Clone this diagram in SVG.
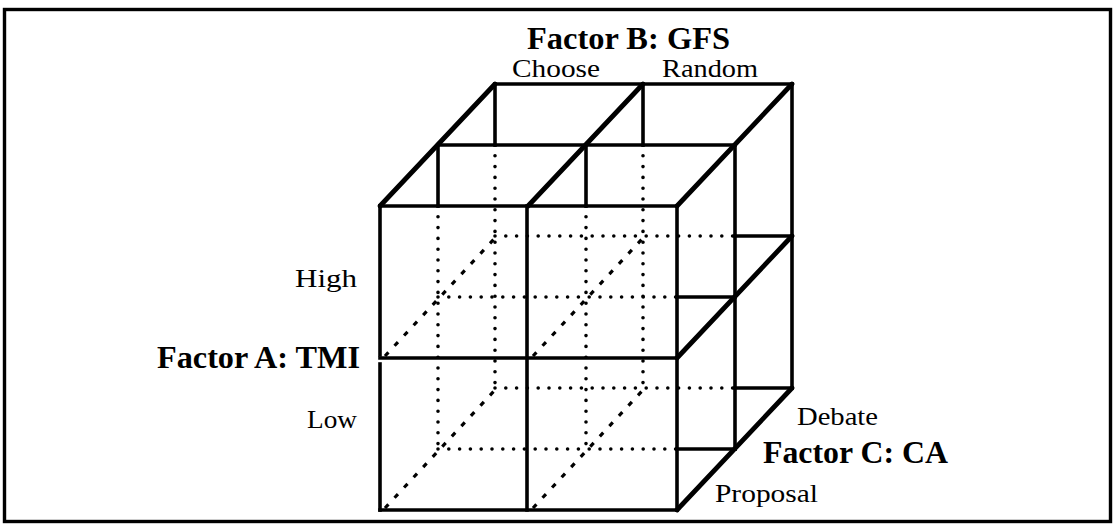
<svg xmlns="http://www.w3.org/2000/svg" width="1116" height="525" viewBox="0 0 1116 525">
  <style>
    .frame { fill: none; stroke: #000; stroke-width: 3.4; }
    .edge { fill: none; stroke: #000; stroke-width: 3.6; stroke-linecap: square; }
    .heavy { fill: none; stroke: #000; stroke-width: 4.8; stroke-linecap: round; }
    .dots { fill: none; stroke: #000; stroke-width: 3.6; stroke-linecap: round; stroke-dasharray: 0 10.8; }
    .dash { fill: none; stroke: #000; stroke-width: 3.2; stroke-linecap: butt; stroke-dasharray: 5 9; }
    .lbl { font-family: "Liberation Serif", "DejaVu Serif", serif; font-size: 25px; fill: #000; }
    .fac { font-family: "Liberation Serif", "DejaVu Serif", serif; font-size: 31px; font-weight: bold; fill: #000; }
  </style>

  <rect class="frame" x="4.5" y="9.5" width="1106" height="512"/>

  <!-- 2 x 2 x 2 block: front plane z0, middle plane z1, back plane z2 -->
  <g id="cube">
    <!-- hidden edges, dotted -->
    <g id="hidden-dotted">
      <line class="dots" x1="438" y1="206" x2="438" y2="449"/>
      <line class="dots" x1="586" y1="206" x2="586" y2="449"/>
      <line class="dots" x1="495" y1="145" x2="495" y2="388"/>
      <line class="dots" x1="643" y1="145" x2="643" y2="388"/>
      <line class="dots" x1="495" y1="236" x2="735" y2="236"/>
      <line class="dots" x1="438" y1="297" x2="677" y2="297"/>
      <line class="dots" x1="495" y1="388" x2="735" y2="388"/>
      <line class="dots" x1="438" y1="449" x2="677" y2="449"/>
    </g>
    <!-- hidden depth edges, dashed -->
    <g id="hidden-dashed">
      <line class="dash" x1="385" y1="356" x2="495" y2="238"/>
      <line class="dash" x1="533" y1="356" x2="643" y2="238"/>
      <line class="dash" x1="385" y1="508" x2="495" y2="390"/>
      <line class="dash" x1="533" y1="508" x2="643" y2="390"/>
    </g>
    <!-- top face -->
    <g id="top">
      <line class="edge" x1="495" y1="84" x2="792" y2="84"/>
      <line class="edge" x1="438" y1="145" x2="735" y2="145"/>
      <line class="edge" x1="495" y1="84" x2="495" y2="145"/>
      <line class="edge" x1="643" y1="84" x2="643" y2="145"/>
      <line class="edge" x1="438" y1="145" x2="438" y2="206"/>
      <line class="edge" x1="586" y1="145" x2="586" y2="206"/>
      <line class="heavy" x1="380" y1="206" x2="495" y2="84"/>
      <line class="heavy" x1="528" y1="206" x2="643" y2="84"/>
      <line class="heavy" x1="677" y1="206" x2="792" y2="84"/>
    </g>
    <!-- front face -->
    <g id="front">
      <line class="edge" x1="380" y1="206" x2="677" y2="206"/>
      <line class="edge" x1="380" y1="358" x2="677" y2="358"/>
      <line class="edge" x1="380" y1="510" x2="677" y2="510"/>
      <line class="edge" x1="380" y1="206" x2="380" y2="355"/>
      <line class="edge" x1="380" y1="364" x2="380" y2="510"/>
      <line class="edge" x1="527" y1="206" x2="527" y2="510"/>
      <line class="edge" x1="677" y1="206" x2="677" y2="510"/>
    </g>
    <!-- right side -->
    <g id="side">
      <line class="edge" x1="735" y1="145" x2="735" y2="449"/>
      <line class="edge" x1="792" y1="84" x2="792" y2="388"/>
      <line class="edge" x1="735" y1="236" x2="792" y2="236"/>
      <line class="edge" x1="677" y1="297" x2="735" y2="297"/>
      <line class="edge" x1="735" y1="388" x2="792" y2="388"/>
      <line class="edge" x1="677" y1="449" x2="735" y2="449"/>
      <line class="heavy" x1="677" y1="358" x2="792" y2="236"/>
      <line class="heavy" x1="677" y1="510" x2="792" y2="388"/>
    </g>
  </g>

  <g id="factor-b">
    <text class="fac" x="527" y="49" textLength="203" lengthAdjust="spacingAndGlyphs">Factor B:  GFS</text>
    <text class="lbl" x="512" y="77" textLength="88" lengthAdjust="spacingAndGlyphs">Choose</text>
    <text class="lbl" x="662" y="77" textLength="96" lengthAdjust="spacingAndGlyphs">Random</text>
  </g>
  <g id="factor-a">
    <text class="lbl" x="295" y="287" textLength="62" lengthAdjust="spacingAndGlyphs">High</text>
    <text class="fac" x="157" y="368" textLength="203" lengthAdjust="spacingAndGlyphs">Factor A: TMI</text>
    <text class="lbl" x="307" y="428" textLength="50" lengthAdjust="spacingAndGlyphs">Low</text>
  </g>
  <g id="factor-c">
    <text class="lbl" x="797" y="425" textLength="81" lengthAdjust="spacingAndGlyphs">Debate</text>
    <text class="fac" x="763" y="463" font-size="29" textLength="185" lengthAdjust="spacingAndGlyphs">Factor C: CA</text>
    <text class="lbl" x="715" y="502" textLength="103" lengthAdjust="spacingAndGlyphs">Proposal</text>
  </g>
</svg>
